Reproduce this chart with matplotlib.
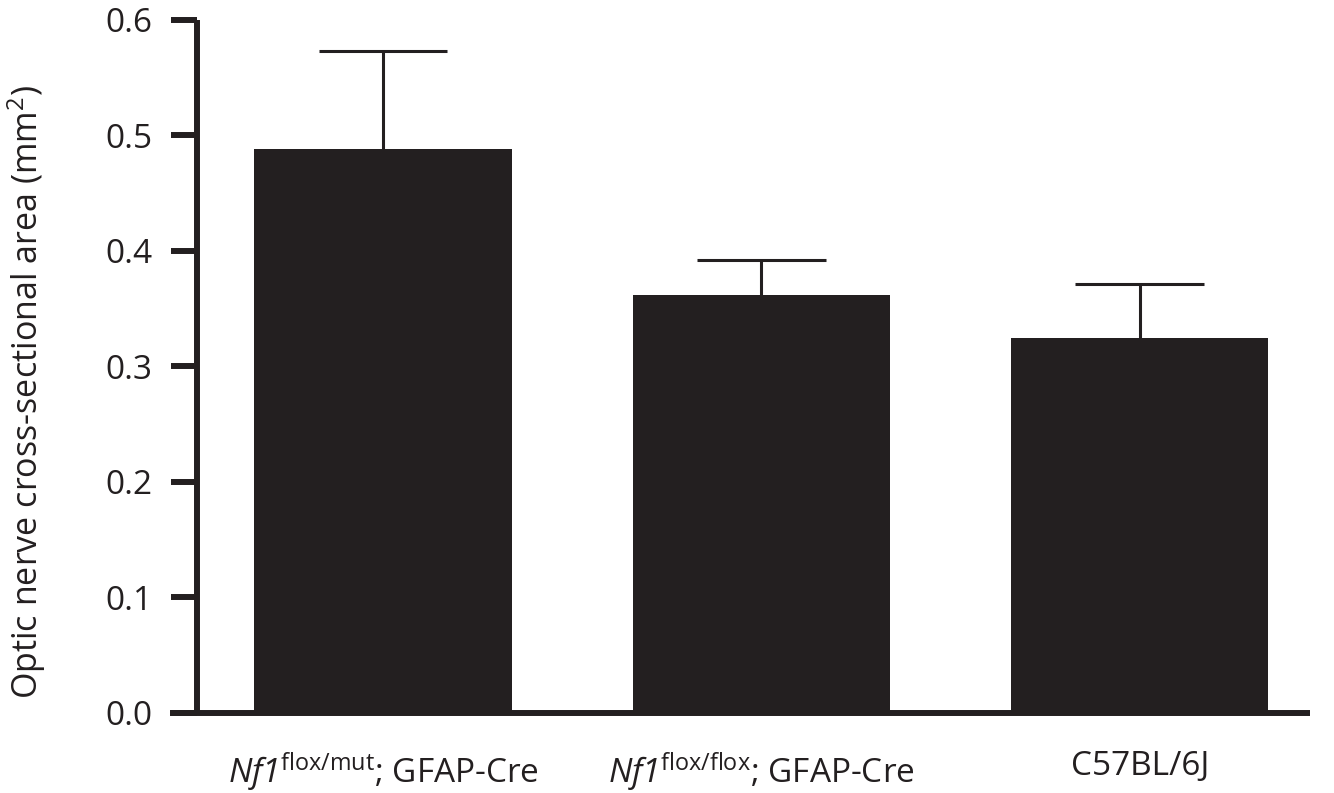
import numpy as np
import matplotlib
matplotlib.use("Agg")
import matplotlib.pyplot as plt

# data
groups = [r"$\mathsf{Nf1}^{\mathrm{flox/mut}}$; GFAP-Cre",
          r"$\mathsf{Nf1}^{\mathrm{flox/flox}}$; GFAP-Cre",
          "C57BL/6J"]
means = [0.488, 0.362, 0.325]
errors = [0.085, 0.030, 0.046]
yticks = [0.0, 0.1, 0.2, 0.3, 0.4, 0.5, 0.6]

ink = "#231f20"
plt.rcParams["font.family"] = ["Open Sans", "DejaVu Sans"]
plt.rcParams["mathtext.fontset"] = "custom"
plt.rcParams["mathtext.rm"] = "Open Sans"
plt.rcParams["mathtext.it"] = "Open Sans:italic"
plt.rcParams["mathtext.sf"] = "Open Sans:italic"

fig = plt.figure(figsize=(13.34, 7.93), dpi=100)
ax = fig.add_axes([0.1274, 0.1009, 0.982 - 0.1274, 0.9748 - 0.1009])

x = np.arange(len(groups))
means = np.array(means)
errors = np.array(errors)
ax.bar(x, means, width=0.68, color=ink, zorder=2)
# upper error bars only (stem + cap)
ax.vlines(x, means, means + errors, color=ink, lw=2.2, zorder=1)
ax.hlines(means + errors, x - 0.17, x + 0.17, color=ink, lw=2.2, zorder=1)

ax.set_xlim(-0.563, 2.45)
ax.set_ylim(0, 0.6)
ax.set_xticks(x)
ax.set_xticklabels(groups)
ax.tick_params(axis="x", length=0, pad=27, labelsize=24, labelcolor=ink)
ax.set_yticks(yticks)
ax.set_yticklabels([f"{v:.1f}" for v in yticks])
ax.tick_params(axis="y", length=18.7, width=4.3, color=ink, pad=13,
               labelsize=24, labelcolor=ink)

for s in ["top", "right"]:
    ax.spines[s].set_visible(False)
ax.spines["left"].set_position(("data", -0.492))
for s in ["left", "bottom"]:
    ax.spines[s].set_linewidth(4.3)
    ax.spines[s].set_color(ink)
    ax.spines[s].set_capstyle("butt")

ax.set_ylabel("Optic nerve cross-sectional area (mm$^2$)", fontsize=24.5,
              color=ink)
ax.yaxis.set_label_coords(-0.107, 0.463)

fig.savefig("out.png", dpi=100)
